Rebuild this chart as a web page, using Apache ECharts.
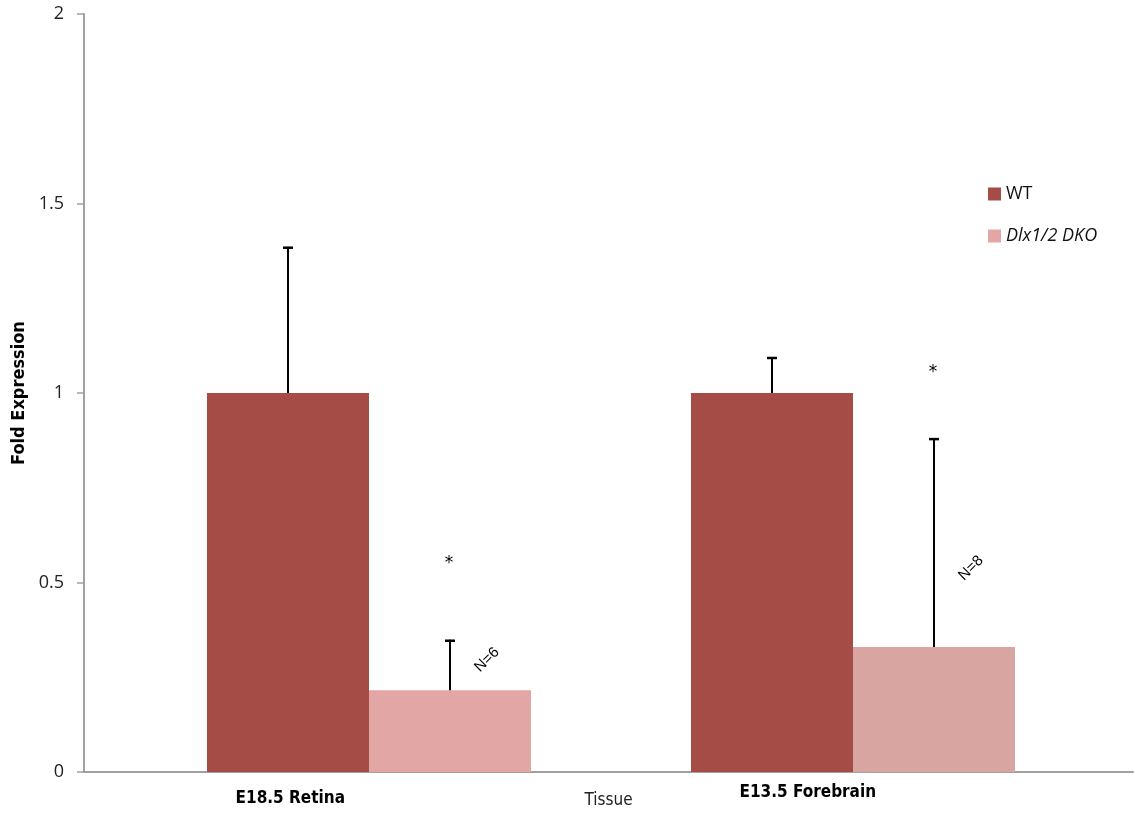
<!DOCTYPE html>
<html>
<head>
<meta charset="utf-8">
<script src="https://cdn.jsdelivr.net/npm/echarts@6/dist/echarts.min.js"></script>
<style>html,body{margin:0;padding:0;background:#fff}#c{width:1135px;height:813px}</style>
</head>
<body>
<div id="c"></div>
<script>
const categories = ['E18.5 Retina', 'E13.5 Forebrain'];
const seriesNames = ['WT', 'Dlx1/2 DKO'];
const wtValues = [1, 1];
const dkoValues = [0.216, 0.33];
const wtErrTop = [1.386, 1.095];
const dkoErrTop = [0.349, 0.881];
const starValues = [0.549, 1.055];
const nLabels = ['N=6', 'N=8'];
const nLabelValues = [0.296, 0.538];

const WT_COLOR = '#a44c45';
const DKO_COLORS = ['#e2a7a4', '#d9a5a1'];
const BAR_W = 162;
const HALF = BAR_W / 2;
const condensed = '"Liberation Sans Narrow", "DejaVu Sans Condensed", "Open Sans", sans-serif';

function errorItem(offset) {
  return function (params, api) {
    const i = api.value(0);
    const b = api.coord([i, api.value(1)]);
    const t = api.coord([i, api.value(2)]);
    const x = b[0] + offset;
    return {
      type: 'group',
      children: [
        { type: 'line', shape: { x1: x, y1: b[1], x2: x, y2: t[1] }, style: { stroke: '#000', lineWidth: 2 } },
        { type: 'line', shape: { x1: x - 5, y1: t[1] + 1, x2: x + 5, y2: t[1] + 1 }, style: { stroke: '#000', lineWidth: 2.5 } }
      ]
    };
  };
}

const option = {
  animation: false,
  backgroundColor: '#fff',
  legend: {
    data: seriesNames,
    orient: 'vertical',
    left: 983,
    top: 180,
    itemWidth: 13,
    itemHeight: 13,
    itemGap: 24,
    icon: 'rect',
    textStyle: {
      fontFamily: '"Open Sans", sans-serif',
      fontSize: 18,
      color: '#111',
      rich: { it: { fontStyle: 'italic', fontFamily: '"Open Sans", sans-serif', fontSize: 18, color: '#111' } }
    },
    formatter: function (n) { return n === 'WT' ? n : '{it|' + n + '}'; }
  },
  grid: [
    { left: 84, right: 2, top: 14, bottom: 41, outerBoundsMode: 'none', containLabel: false },
    { left: 127, right: 40, top: 14, bottom: 41, outerBoundsMode: 'none', containLabel: false }
  ],
  xAxis: [
    {
      gridIndex: 0,
      type: 'category',
      data: categories,
      axisLine: { lineStyle: { color: '#a0a0a0', width: 2 } },
      axisTick: { show: false },
      axisLabel: {
        interval: 0,
        margin: 12,
        formatter: function (v, idx) { return idx === 0 ? '{a|' + v + '}' : '{b|' + v + '}'; },
        rich: {
          a: { fontFamily: condensed, fontWeight: 'bold', fontSize: 17, color: '#000', padding: [6, 112, 0, 0] },
          b: { fontFamily: condensed, fontWeight: 'bold', fontSize: 17, color: '#000', padding: [0, 126, 0, 0] }
        }
      },
      name: 'Tissue',
      nameLocation: 'middle',
      nameGap: 20,
      nameMoveOverlap: false,
      nameTextStyle: { fontFamily: condensed, fontSize: 17, color: '#222' }
    },
    {
      gridIndex: 1,
      type: 'category',
      data: categories,
      show: false
    }
  ],
  yAxis: [
    {
      gridIndex: 0,
      type: 'value',
      min: 0, max: 2, interval: 0.5,
      axisLine: { show: true, lineStyle: { color: '#a0a0a0', width: 2 } },
      axisTick: { show: true, length: 7, lineStyle: { color: '#a0a0a0', width: 1.5 } },
      splitLine: { show: false },
      axisLabel: { margin: 20, fontFamily: '"Open Sans", sans-serif', fontSize: 18, color: '#222' },
      name: 'Fold Expression',
      nameLocation: 'middle',
      nameRotate: 90,
      nameGap: 56,
      nameMoveOverlap: false,
      nameTextStyle: { fontFamily: condensed, fontWeight: 'bold', fontSize: 18, color: '#000' }
    },
    {
      gridIndex: 1,
      type: 'value',
      min: 0, max: 2, interval: 0.5,
      show: false
    }
  ],
  series: [
    {
      name: 'WT', type: 'bar', xAxisIndex: 1, yAxisIndex: 1,
      barWidth: BAR_W, barGap: '0%',
      itemStyle: { color: WT_COLOR },
      data: wtValues
    },
    {
      name: 'Dlx1/2 DKO', type: 'bar', xAxisIndex: 1, yAxisIndex: 1,
      barWidth: BAR_W, barGap: '0%',
      itemStyle: { color: DKO_COLORS[0] },
      data: dkoValues.map((v, i) => ({ value: v, itemStyle: { color: DKO_COLORS[i] } }))
    },
    {
      type: 'custom', xAxisIndex: 1, yAxisIndex: 1, z: 5,
      renderItem: errorItem(-HALF),
      data: wtValues.map((v, i) => [i, v, wtErrTop[i]])
    },
    {
      type: 'custom', xAxisIndex: 1, yAxisIndex: 1, z: 5,
      renderItem: errorItem(HALF),
      data: dkoValues.map((v, i) => [i, v, dkoErrTop[i]])
    },
    {
      type: 'custom', xAxisIndex: 1, yAxisIndex: 1, z: 6,
      renderItem: function (params, api) {
        const i = api.value(0);
        const p = api.coord([i, api.value(1)]);
        return { type: 'text', x: p[0] + HALF - 1, y: p[1], style: { text: '*', fontFamily: '"DejaVu Sans", sans-serif', fontSize: 17, fill: '#000', align: 'center', verticalAlign: 'middle' } };
      },
      data: starValues.map((v, i) => [i, v])
    },
    {
      type: 'custom', xAxisIndex: 1, yAxisIndex: 1, z: 6,
      renderItem: function (params, api) {
        const i = api.value(0);
        const p = api.coord([i, api.value(1)]);
        return { type: 'text', x: p[0] + HALF + 37, y: p[1], rotation: Math.PI / 4, style: { text: nLabels[i], fontFamily: '"Liberation Sans", sans-serif', fontSize: 15, fill: '#000', align: 'center', verticalAlign: 'middle' } };
      },
      data: nLabelValues.map((v, i) => [i, v])
    }
  ]
};

const chart = echarts.init(document.getElementById('c'), null, { renderer: 'canvas' });
chart.setOption(option);
</script>
</body>
</html>
